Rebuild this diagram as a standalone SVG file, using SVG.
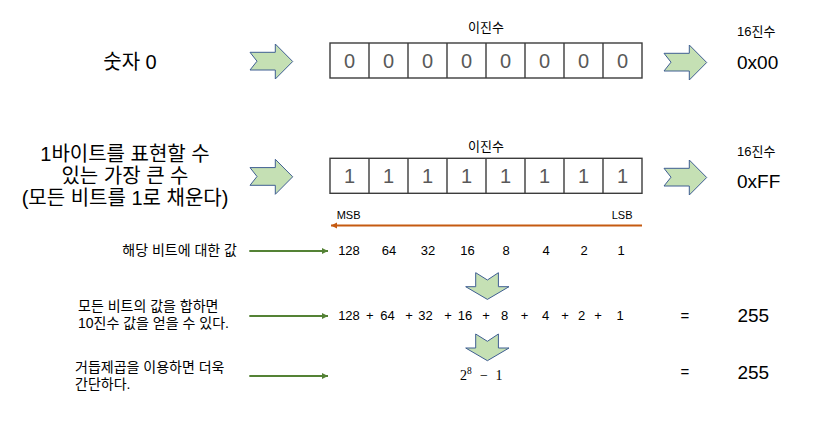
<svg xmlns="http://www.w3.org/2000/svg" width="836" height="423" viewBox="0 0 836 423">
<style>
text { font-family: "Liberation Sans", "Noto Sans CJK KR", sans-serif; fill: #000; }
.kr { font-family: "Noto Sans CJK KR", "Liberation Sans", sans-serif; }
.big { font-size: 19px; }
.title { font-size: 20px; }
.small { font-size: 13px; }
.lbl { font-size: 14px; }
.num { font-size: 13px; }
.digit { font-size: 20px; fill: #595959; text-anchor: middle; }
.mid { text-anchor: middle; }
.end { text-anchor: end; }
.math { font-family: "Liberation Serif", serif; fill: #000; }
.cell { fill: none; stroke: #3c3c3c; stroke-width: 1.4; }
.chev { fill: #C5E0B4; stroke: #3F5E92; stroke-width: 1; }
.garrow { stroke: #548235; stroke-width: 2; fill: none; }
.oarrow { stroke: #C55A11; stroke-width: 2; fill: none; }
</style>
<defs>
<polygon id="chevR" points="0,8.3 25.3,8.3 25.3,0 42.7,17.5 25.3,35 25.3,26 0,26 7,17.2"/>
<polygon id="chevD" points="10,0 21.7,7.3 32.7,0 32.7,14 43.3,14 21.7,26.7 0,14 10,14"/>
<marker id="mg" markerWidth="8" markerHeight="8" refX="6" refY="3" orient="auto" markerUnits="userSpaceOnUse">
<path d="M0,0 L6,3 L0,6 Z" fill="#548235"/>
</marker>
<marker id="mo" markerWidth="8" markerHeight="8" refX="6" refY="3" orient="auto" markerUnits="userSpaceOnUse">
<path d="M0,0 L6,3 L0,6 Z" fill="#C55A11"/>
</marker>
</defs>

<!-- Row 1 -->
<g id="label-zero">
<text class="title mid" x="130" y="69">숫자 0</text>
</g>
<g id="chev-r1-left"><use href="#chevR" class="chev" x="250" y="44"/></g>
<g id="binary-zero">
<text class="small kr mid" x="486" y="32">이진수</text>
<rect class="cell" x="330" y="43" width="312" height="35"/>
<path class="cell" d="M369,43V78 M408,43V78 M447,43V78 M486,43V78 M525,43V78 M564,43V78 M603,43V78"/>
<text class="digit" x="349.5" y="68">0</text>
<text class="digit" x="388.5" y="68">0</text>
<text class="digit" x="427.5" y="68">0</text>
<text class="digit" x="466.5" y="68">0</text>
<text class="digit" x="505.5" y="68">0</text>
<text class="digit" x="544.5" y="68">0</text>
<text class="digit" x="583.5" y="68">0</text>
<text class="digit" x="622.5" y="68">0</text>
</g>
<g id="chev-r1-right"><use href="#chevR" class="chev" x="664" y="45"/></g>
<g id="hex-zero">
<text class="small" x="737" y="36">16진수</text>
<text class="big" x="737" y="69">0x00</text>
</g>

<!-- Row 2 -->
<g id="label-max">
<text class="title mid" x="125" y="161">1바이트를 표현할 수</text>
<text class="title mid" x="125" y="183">있는 가장 큰 수</text>
<text class="title mid" x="125" y="205">(모든 비트를 1로 채운다)</text>
</g>
<g id="chev-r2-left"><use href="#chevR" class="chev" x="250" y="159.3"/></g>
<g id="binary-max">
<text class="small kr mid" x="486" y="151">이진수</text>
<rect class="cell" x="330" y="158.3" width="312" height="35"/>
<path class="cell" d="M369,158.3V193.3 M408,158.3V193.3 M447,158.3V193.3 M486,158.3V193.3 M525,158.3V193.3 M564,158.3V193.3 M603,158.3V193.3"/>
<text class="digit" x="349.5" y="183">1</text>
<text class="digit" x="388.5" y="183">1</text>
<text class="digit" x="427.5" y="183">1</text>
<text class="digit" x="466.5" y="183">1</text>
<text class="digit" x="505.5" y="183">1</text>
<text class="digit" x="544.5" y="183">1</text>
<text class="digit" x="583.5" y="183">1</text>
<text class="digit" x="622.5" y="183">1</text>
<text x="336.7" y="219" style="font-size:11px">MSB</text>
<text x="611.7" y="219" style="font-size:11px">LSB</text>
</g>
<g id="chev-r2-right"><use href="#chevR" class="chev" x="664" y="160"/></g>
<g id="hex-max">
<text class="small" x="737" y="156">16진수</text>
<text class="big" x="737" y="188">0xFF</text>
</g>

<!-- Row 3: bit values -->
<g id="label-bitvalue">
<text class="lbl end" x="237" y="255">해당 비트에 대한 값</text>
</g>
<g id="bit-values">
<text class="num mid" x="349" y="255">128</text>
<text class="num mid" x="389" y="255">64</text>
<text class="num mid" x="428" y="255">32</text>
<text class="num mid" x="467.5" y="255">16</text>
<text class="num mid" x="506" y="255">8</text>
<text class="num mid" x="546" y="255">4</text>
<text class="num mid" x="584" y="255">2</text>
<text class="num mid" x="621" y="255">1</text>
</g>
<g id="chev-down-1"><use href="#chevD" class="chev" x="465.7" y="272.7"/></g>

<!-- Row 4: sum -->
<g id="label-sum">
<text class="lbl" x="78" y="311">모든 비트의 값을 합하면</text>
<text class="lbl" x="78" y="327.5">10진수 값을 얻을 수 있다.</text>
</g>
<g id="sum-expr">
<text class="num mid" x="349" y="319.5">128</text>
<text class="num mid" x="369.7" y="319.5">+</text>
<text class="num mid" x="387.5" y="319.5">64</text>
<text class="num mid" x="409" y="319.5">+</text>
<text class="num mid" x="425.5" y="319.5">32</text>
<text class="num mid" x="448" y="319.5">+</text>
<text class="num mid" x="465" y="319.5">16</text>
<text class="num mid" x="486" y="319.5">+</text>
<text class="num mid" x="504.5" y="319.5">8</text>
<text class="num mid" x="524.5" y="319.5">+</text>
<text class="num mid" x="545.5" y="319.5">4</text>
<text class="num mid" x="565" y="319.5">+</text>
<text class="num mid" x="581.5" y="319.5">2</text>
<text class="num mid" x="598" y="319.5">+</text>
<text class="num mid" x="620" y="319.5">1</text>
</g>
<g id="sum-result">
<text class="mid" x="685" y="321" style="font-size:15px">=</text>
<text class="big mid" x="753.3" y="321.7">255</text>
</g>
<g id="chev-down-2"><use href="#chevD" class="chev" x="465.7" y="334"/></g>

<!-- Row 5: power -->
<g id="label-power">
<text class="lbl" x="75" y="372">거듭제곱을 이용하면 더욱</text>
<text class="lbl" x="75" y="388.5">간단하다.</text>
</g>
<g id="power-expr">
<text class="math" x="460" y="380" style="font-size:14px">2</text>
<text class="math" x="467" y="374" style="font-size:9.5px">8</text>
<text class="math mid" x="484" y="380" style="font-size:14px">−</text>
<text class="math" x="495.5" y="380" style="font-size:14px">1</text>
</g>
<g id="power-result">
<text class="mid" x="685" y="376.5" style="font-size:15px">=</text>
<text class="big mid" x="753.3" y="379.3">255</text>
</g>

<!-- Connectors -->
<g id="connectors">
<line class="oarrow" x1="642" y1="225.5" x2="331" y2="225.5" marker-end="url(#mo)"/>
<line class="garrow" x1="249.3" y1="251" x2="328" y2="251" marker-end="url(#mg)"/>
<line class="garrow" x1="249.3" y1="316" x2="328" y2="316" marker-end="url(#mg)"/>
<line class="garrow" x1="249.3" y1="376" x2="328" y2="376" marker-end="url(#mg)"/>
</g>
</svg>
